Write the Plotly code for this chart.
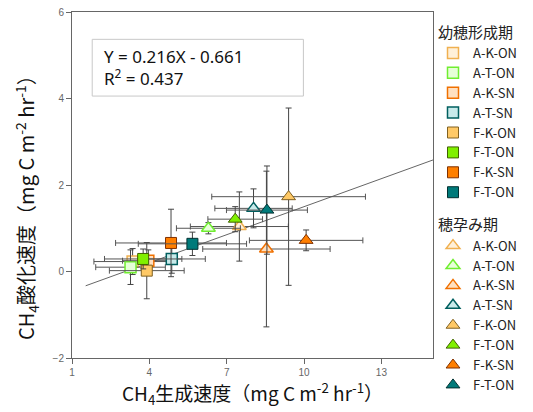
import plotly.graph_objects as go

# ---- data ----
names = ["A-K-ON", "A-T-ON", "A-K-SN", "A-T-SN", "F-K-ON", "F-T-ON", "F-K-SN", "F-T-ON"]

# 幼穂形成期 (squares)
g1_x = [3.35, 3.27, 3.96, 4.87, 3.90, 3.76, 4.84, 5.67]
g1_y = [0.23, 0.10, 0.25, 0.29, 0.02, 0.29, 0.66, 0.64]
g1_ex = [1.5, 1.35, 1.0, 1.3, 1.45, 1.5, 2.15, 2.1]
g1_ey = [0.30, 0.40, 0.25, 0.33, 0.65, 0.23, 0.78, 0.27]

# 穂孕み期 (triangles)
g2_x = [7.49, 6.29, 8.54, 8.04, 9.40, 7.33, 10.08, 8.56]
g2_y = [1.04, 1.00, 0.52, 1.46, 1.73, 1.21, 0.72, 1.42]
g2_ex = [1.9, 1.24, 2.47, 1.5, 2.98, 1.06, 2.2, 1.57]
g2_ey = [0.80, 0.13, 1.80, 0.45, 2.05, 0.29, 0.24, 1.02]

group_titles = ["幼穂形成期", "穂孕み期"]
slope, intercept = 0.216, -0.661
fit_x = [1.53, 15.0]

x_ticks = [1, 4, 7, 10, 13]
y_ticks = [-2, 0, 2, 4, 6]

# ---- styles ----
fill_col = ["#FFF0D8", "#E6FFD8", "#FFE0C0", "#C8EAEA",
            "#FFC966", "#80F000", "#FF7F00", "#007A7A"]
line_col = ["#F0B050", "#70EE30", "#F07000", "#005F5F",
            "#806020", "#406000", "#803000", "#003030"]

fig = go.Figure()

# fit line
fig.add_trace(go.Scatter(
    x=fit_x, y=[slope * v + intercept for v in fit_x], mode="lines",
    line=dict(color="#666666", width=1), showlegend=False, hoverinfo="skip"))

def add_group(xs, ys, exs, eys, symbol, size, gid, title):
    for i in range(len(names)):
        fig.add_trace(go.Scatter(
            x=[xs[i]], y=[ys[i]], mode="markers", name=names[i],
            legendgroup=gid,
            legendgrouptitle=dict(text=title, font=dict(size=15, color="#222")) if i == 0 else None,
            marker=dict(symbol=symbol, size=size, color=fill_col[i],
                        line=dict(color=line_col[i], width=1.5 if i < 4 else 1)),
            error_x=dict(type="data", array=[exs[i]], color="#555555", thickness=1, width=3),
            error_y=dict(type="data", array=[eys[i]], color="#444444", thickness=1, width=3),
        ))

add_group(g1_x, g1_y, g1_ex, g1_ey, "square", 11, "g1", group_titles[0])
add_group(g2_x, g2_y, g2_ex, g2_ey, "triangle-up", 12, "g2", group_titles[1])

# equation box
fig.add_shape(type="rect", xref="paper", yref="paper",
              x0=0.056, x1=0.641, y0=0.757, y1=0.921,
              line=dict(color="#C8C8C8", width=1), fillcolor="rgba(0,0,0,0)")
fig.add_annotation(xref="paper", yref="paper", x=0.083, y=0.839, xanchor="left", yanchor="middle",
                   text="Y = 0.216X - 0.661<br>R<sup>2</sup> = 0.437", align="left", showarrow=False,
                   font=dict(family="Noto Sans", size=17, color="#111"))

# y title
fig.add_annotation(xref="paper", yref="paper", x=0, y=0.448, xshift=-45, textangle=-90,
                   xanchor="center", yanchor="middle", showarrow=False,
                   text="CH<sub>4</sub>酸化速度（mg C m<sup>-2</sup> hr<sup>-1</sup>）",
                   font=dict(family="Noto Sans CJK JP", size=20, color="#111"))

fig.update_layout(
    width=533, height=412,
    margin=dict(l=72, r=100, t=12, b=54, autoexpand=False),
    paper_bgcolor="white", plot_bgcolor="white",
    font=dict(family="Noto Sans CJK JP", size=12, color="#222"),
    legend=dict(x=1.0, xanchor="left", y=0.99, yanchor="top", maxheight=400,
                tracegroupgap=11, font=dict(size=13), bgcolor="rgba(0,0,0,0)"),
    xaxis=dict(range=[1, 15], tickvals=x_ticks, showline=True, mirror=True,
               linecolor="#666", linewidth=1, ticks="outside", ticklen=5, tickcolor="#666",
               showgrid=False, zeroline=False,
               tickfont=dict(family="Liberation Sans", size=10, color="#666"),
               title=dict(text="CH<sub>4</sub>生成速度（mg C m<sup>-2</sup> hr<sup>-1</sup>）",
                          font=dict(family="Noto Sans CJK JP", size=19, color="#111"), standoff=4)),
    yaxis=dict(range=[-2, 6], tickvals=y_ticks, showline=True, mirror=True,
               linecolor="#666", linewidth=1, ticks="outside", ticklen=5, tickcolor="#666",
               showgrid=False, zeroline=False,
               tickfont=dict(family="Liberation Sans", size=10, color="#666")),
)

fig.write_html("out.html", config={"displayModeBar": False},
               post_script="document.body.style.margin='0';document.body.style.overflow='hidden';")
